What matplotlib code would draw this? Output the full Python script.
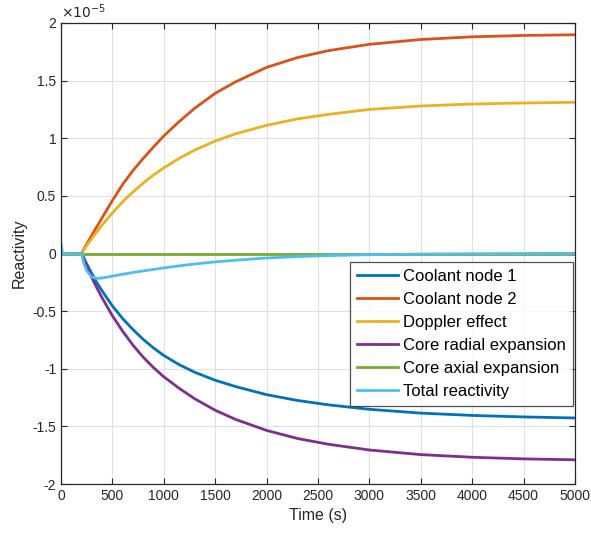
import matplotlib
matplotlib.use("Agg")
import matplotlib.pyplot as plt
from matplotlib.ticker import FuncFormatter, MultipleLocator

plt.rcParams['font.family'] = ['Liberation Sans', 'DejaVu Sans']
plt.rcParams['axes.unicode_minus'] = False

scale = 1e-5
time = [0, 15, 200, 220, 250, 300, 350, 400, 500, 600, 700, 800, 900, 1000,
        1150, 1300, 1500, 1700, 2000, 2300, 2600, 3000, 3500, 4000, 4500, 5000]
coolant1 = [0, 0, 0, -0.035, -0.09, -0.175, -0.255, -0.325, -0.455, -0.565,
            -0.66, -0.745, -0.82, -0.885, -0.965, -1.03, -1.10, -1.155, -1.225,
            -1.275, -1.313, -1.352, -1.385, -1.405, -1.418, -1.427]
coolant2 = [0, 0, 0, 0.035, 0.08, 0.16, 0.235, 0.31, 0.46, 0.60, 0.72, 0.825,
            0.925, 1.02, 1.145, 1.26, 1.39, 1.49, 1.615, 1.70, 1.76, 1.815,
            1.857, 1.88, 1.892, 1.898]
doppler = [0, 0, 0, 0.027, 0.067, 0.13, 0.19, 0.247, 0.352, 0.449, 0.534,
           0.611, 0.681, 0.743, 0.826, 0.897, 0.976, 1.039, 1.112, 1.168,
           1.207, 1.25, 1.28, 1.297, 1.306, 1.312]
radial = [0, 0, 0, -0.045, -0.11, -0.21, -0.30, -0.385, -0.54, -0.675, -0.795,
          -0.90, -0.99, -1.07, -1.17, -1.26, -1.36, -1.44, -1.535, -1.605,
          -1.655, -1.705, -1.745, -1.768, -1.782, -1.79]
axial = [0, 0, 0, 0, 0, 0, 0, 0, 0, 0, 0, 0, 0, 0, 0, 0, 0, 0, 0, 0, 0, 0,
         0, 0, 0, 0]
total = [0.09, 0, 0, -0.08, -0.15, -0.205, -0.216, -0.213, -0.196, -0.18,
         -0.165, -0.151, -0.138, -0.125, -0.107, -0.091, -0.073, -0.058,
         -0.039, -0.027, -0.018, -0.01, -0.005, -0.002, 0, 0.001]

labels = ['Coolant node 1', 'Coolant node 2', 'Doppler effect',
          'Core radial expansion', 'Core axial expansion', 'Total reactivity']
colors = ['#0072BD', '#D95319', '#EDB120', '#7E2F8E', '#77AC30', '#4DBEEE']
series = [coolant1, coolant2, doppler, radial, axial, total]

fig = plt.figure(figsize=(5.91, 5.34), dpi=100)
ax = fig.add_axes([61/591, 50/534, 514/591, 461/534])

for s, c, l in zip(series, colors, labels):
    ax.plot(time, [v * scale for v in s], color=c, lw=2, label=l,
            solid_joinstyle='round')

ax.set_xlim(0, 5000)
ax.set_ylim(-2 * scale, 2 * scale)
ax.xaxis.set_major_locator(MultipleLocator(500))
ax.yaxis.set_major_locator(MultipleLocator(0.5 * scale))
ax.yaxis.set_major_formatter(FuncFormatter(lambda v, p: f"{v/scale:g}"))
ax.grid(True, color='#e0e0e0', lw=0.8)
ax.tick_params(direction='in', top=True, right=True, labelsize=10,
               colors='#262626', length=4)
for sp in ax.spines.values():
    sp.set_color('#262626')
    sp.set_linewidth(0.9)
ax.set_xlabel('Time (s)', fontsize=11.5, color='#262626')
ax.set_ylabel('Reactivity', fontsize=11.5, color='#262626')
ax.text(0.0, 1.005, r'$\times10^{-5}$', transform=ax.transAxes,
        fontsize=10, color='#262626', ha='left', va='bottom')

leg = ax.legend(loc='upper right', bbox_to_anchor=(0.996, 0.481),
                borderaxespad=0, fontsize=12, frameon=True, fancybox=False,
                edgecolor='#262626', handlelength=2.5, labelspacing=0.48,
                handletextpad=0.3, borderpad=0.4)
leg.get_frame().set_linewidth(0.9)

fig.savefig('out.png', dpi=100)
